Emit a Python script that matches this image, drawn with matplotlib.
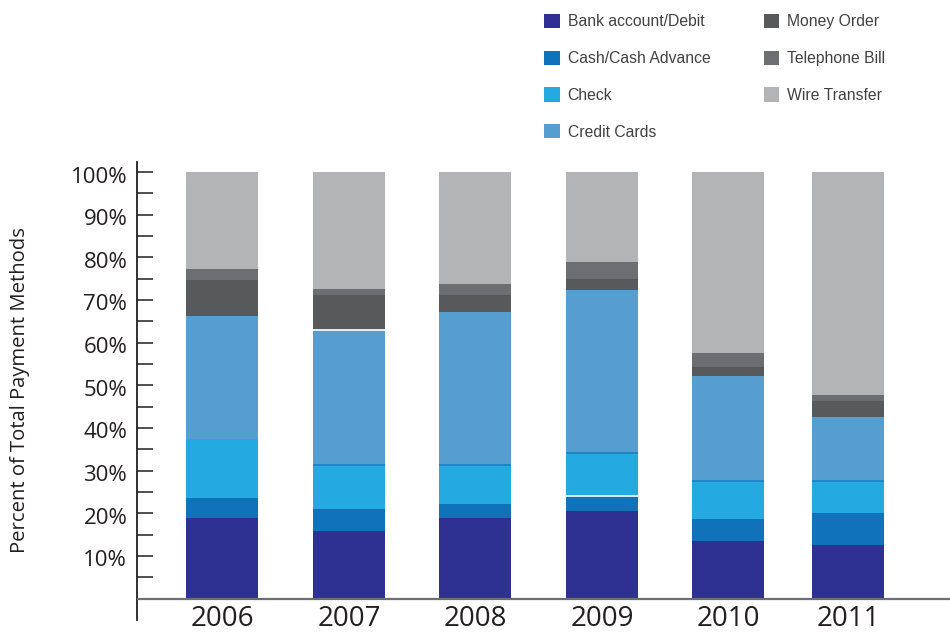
import matplotlib
matplotlib.use("Agg")
import matplotlib.pyplot as plt
from matplotlib.patches import Patch
from matplotlib.transforms import blended_transform_factory, offset_copy
import numpy as np

years = ["2006", "2007", "2008", "2009", "2010", "2011"]
methods = ["Bank account/Debit", "Cash/Cash Advance", "Check", "Credit Cards",
           "Money Order", "Telephone Bill", "Wire Transfer"]

# Share of each payment method (percent of total), per year
bank_debit = [18.8, 15.8, 18.8, 20.5, 13.5, 12.5]
cash_advance = [4.7, 5.2, 3.3, 3.6, 5.1, 7.5]
check = [13.8, 10.2, 9.1, 9.9, 8.9, 7.5]
credit_cards = [28.9, 31.7, 36.0, 38.3, 24.7, 15.1]
money_order = [8.5, 8.2, 3.9, 2.6, 2.1, 3.7]
telephone_bill = [2.5, 1.5, 2.7, 4.0, 3.3, 1.4]
wire_transfer = [22.8, 27.4, 26.2, 21.1, 42.4, 52.3]

series = [bank_debit, cash_advance, check, credit_cards,
          money_order, telephone_bill, wire_transfer]
colors = ["#2e3192", "#1073ba", "#24a9e1", "#569dd0",
          "#58595b", "#6d6e71", "#b3b4b6"]

W, H = 950, 633
fig = plt.figure(figsize=(W / 100, H / 100), dpi=100)

# axes placed in pixel terms: left spine at x=137, spans y=162..620
ax_left, ax_right = 137, 950
ax_top, ax_bot = 162, 620
ax = fig.add_axes([ax_left / W, 1 - ax_bot / H,
                   (ax_right - ax_left) / W, (ax_bot - ax_top) / H])

y0_px, y100_px = 598.5, 172.0
ppu = (y0_px - y100_px) / 100.0
ax.set_ylim(-(ax_bot - y0_px) / ppu, 100 + (y100_px - ax_top) / ppu)

# bar centres in horizontal pixel units
centers_px = [222, 349, 475, 602, 728, 848]
xpos = np.array([c - ax_left for c in centers_px], dtype=float)
ax.set_xlim(0, ax_right - ax_left)
bar_w = 72

bottom = np.zeros(len(years))
tops = []
for vals, col in zip(series, colors):
    vals = np.array(vals)
    ax.bar(xpos, vals, width=bar_w, bottom=bottom, color=col,
           linewidth=0, zorder=2)
    bottom = bottom + vals
    tops.append(bottom.copy())

# thin seams between some stacked segments
check_top = tops[2]
for i in range(1, len(years)):
    ax.hlines(check_top[i], xpos[i] - bar_w / 2, xpos[i] + bar_w / 2,
              color="#1a7fc4", linewidth=1.2, zorder=3)
ax.hlines(tops[3][1], xpos[1] - bar_w / 2, xpos[1] + bar_w / 2,
          color="white", linewidth=1.2, zorder=3)
ax.hlines(tops[1][3], xpos[3] - bar_w / 2, xpos[3] + bar_w / 2,
          color="white", linewidth=1.2, zorder=3)

for s in ["top", "right", "bottom"]:
    ax.spines[s].set_visible(False)
ax.spines["left"].set_color("#231f20")
ax.spines["left"].set_linewidth(1.3)
ax.axhline(0, color="#6d6e71", linewidth=1.6, zorder=3)

ax.set_yticks(np.arange(10, 101, 10))
ax.set_yticklabels([f"{v}%" for v in range(10, 101, 10)])
ax.set_yticks(np.arange(5, 100, 10), minor=True)
ax.tick_params(axis="y", which="both", direction="in", length=11.5,
               width=1.3, color="#414042", pad=7)
ax.tick_params(axis="y", which="major", labelsize=16, labelcolor="#231f20")
for lab in ax.get_yticklabels():
    lab.set_fontfamily("Open Sans")
    lab.set_transform(offset_copy(lab.get_transform(), fig=fig, y=-2.5,
                                  units="dots"))

# year labels below the baseline axis
ax.set_xticks([])
tr = blended_transform_factory(ax.transData, fig.transFigure)
for x, yr in zip(xpos, years):
    ax.text(x, 1 - 626 / H, yr, transform=tr, ha="center", va="baseline",
            fontsize=20, color="#231f20", fontfamily="Open Sans",
            clip_on=False)

fig.text(20 / W, 1 - 390 / H, "Percent of Total Payment Methods",
         rotation=90, ha="center", va="center", fontsize=14.6,
         color="#231f20", fontfamily="Open Sans")

handles = [Patch(facecolor=c, edgecolor="none") for c in colors]
leg = fig.legend(handles, methods, ncol=2, loc="upper left",
                 bbox_to_anchor=(544 / W, 1 - 14 / H), frameon=False,
                 borderpad=0, borderaxespad=0,
                 prop={"family": "Liberation Sans", "size": 11.3},
                 handlelength=1.0, handleheight=1.0, handletextpad=0.5,
                 labelspacing=1.36, columnspacing=3.4)
for t in leg.get_texts():
    t.set_color("#414042")

fig.savefig("out.png", dpi=100)
